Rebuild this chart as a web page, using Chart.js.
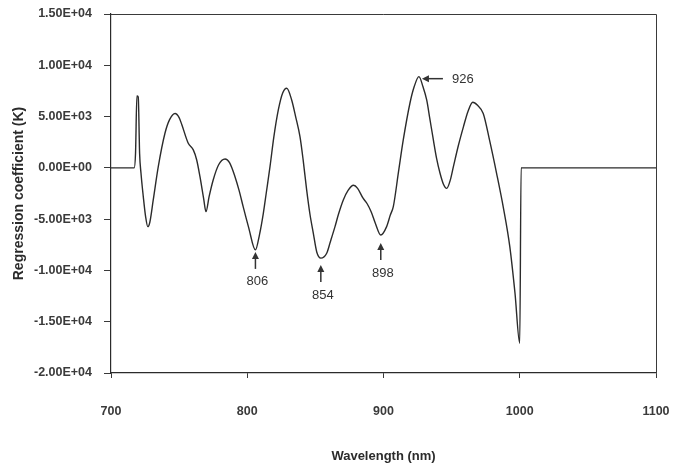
<!DOCTYPE html>
<html>
<head>
<meta charset="utf-8">
<script src="https://cdn.jsdelivr.net/npm/chart.js@4.4.1/dist/chart.umd.min.js"></script>
<style>
  html, body { margin: 0; padding: 0; background: #ffffff; }
  #wrap { width: 673px; height: 467px; }
</style>
</head>
<body>
<div id="wrap"><canvas id="c" width="673" height="467"></canvas></div>
<script>
// Wavelength (nm) of each sampled point of the regression-coefficient curve
const wavelength = [
  700, 717, 718, 719, 720, 721, 722, 723.7, 725.4, 727, 728.5, 731, 734.7, 739.6, 743, 747, 750, 752,
  756.7, 760.4, 762.9, 765.3, 768, 769.7, 772, 775, 779, 783.7, 787, 791, 794, 797, 801, 806, 809,
  811.8, 814, 816.7, 819.5, 822.8, 826, 829, 832.6, 835.5, 838.7, 841, 843.6, 846, 848.5, 851, 854,
  858.3, 861, 864.4, 867, 870.5, 874, 878, 881, 885, 888, 891, 894, 898, 902.3, 905, 907.2, 911,
  914.5, 919.4, 922.5, 926, 929, 931.7, 934, 936.6, 939, 941.5, 944, 946.4, 949, 951.3, 955, 958.7,
  962, 965.5, 969, 973.2, 978, 983, 988, 992.7, 996.5, 1000, 1001, 1100
];

// Regression coefficient (K) at each wavelength above
const coefficient = [
  0, 0, 1400, 7000, 6900, 1400, -500, -2800, -4750, -5730, -5300, -3130, 120, 3370, 4700, 5300, 4900, 4200,
  2400, 1750, 770, -860, -3000, -4270, -2800, -1180, 300, 870, 500, -860, -2200, -3780, -5800, -8000, -6500,
  -4430, -2400, 120, 3000, 5645, 7300, 7760, 6620, 5000, 3040, 800, -2150, -4500, -6380, -8200, -8800,
  -8330, -7200, -5730, -4500, -3130, -2200, -1700, -2000, -2960, -3500, -4300, -5400, -6550, -5730, -4600, -3780, -400,
  2720, 6300, 7900, 8890, 7900, 6620, 4800, 2720, 900, -530, -1600, -2000, -1200, 120, 2200, 4020,
  5500, 6400, 6100, 5300, 2600, -530, -3900, -7680, -12200, -17100, 0, 0
];

// Axis ticks
const xTicks = [700, 800, 900, 1000, 1100];
const yTicks = [15000, 10000, 5000, 0, -5000, -10000, -15000, -20000];

// Wavelengths marked with arrows, and which way each arrow points
const markedWavelengths = [806, 854, 898, 926];
const markedDirections = ['up', 'up', 'up', 'left'];

function sci(v) {
  if (v === 0) return '0.00E+00';
  const e = Math.floor(Math.log10(Math.abs(v)) + 1e-9);
  const m = v / Math.pow(10, e);
  return m.toFixed(2) + 'E' + (e < 0 ? '-' : '+') + String(Math.abs(e)).padStart(2, '0');
}

const points = wavelength.map((w, i) => ({ x: w, y: coefficient[i] }));

const ink = '#2b2b2b';
const tickFont = { family: '"Liberation Sans", Arial, sans-serif', size: 12.5, weight: 'bold' };

// Closes the plot box and draws the arrows that mark selected extrema
const framePlugin = {
  id: 'frameAndMarks',
  afterDatasetsDraw(chart) {
    const { ctx, chartArea: a, scales } = chart;
    ctx.save();
    ctx.strokeStyle = '#3a3a3a';
    ctx.lineWidth = 1;
    ctx.beginPath();
    ctx.moveTo(a.left, a.top + 0.5);
    ctx.lineTo(a.right + 0.5, a.top + 0.5);
    ctx.lineTo(a.right + 0.5, a.bottom);
    ctx.stroke();

    ctx.fillStyle = '#333';
    ctx.strokeStyle = '#333';
    ctx.lineWidth = 1.5;
    ctx.font = '13px "Liberation Sans", Arial, sans-serif';
    const gaps = [2, 7, 8, 3];
    markedWavelengths.forEach((w, k) => {
      const idx = wavelength.indexOf(w);
      const px = scales.x.getPixelForValue(w);
      const py = scales.y.getPixelForValue(coefficient[idx]);
      if (markedDirections[k] === 'up') {
        const tip = py + gaps[k];
        ctx.beginPath();
        ctx.moveTo(px, tip + 5);
        ctx.lineTo(px, tip + 17);
        ctx.stroke();
        ctx.beginPath();
        ctx.moveTo(px, tip);
        ctx.lineTo(px - 3.5, tip + 7);
        ctx.lineTo(px + 3.5, tip + 7);
        ctx.closePath();
        ctx.fill();
        ctx.textAlign = 'center';
        ctx.textBaseline = 'middle';
        ctx.fillText(String(w), px + 2, tip + 30);
      } else {
        const tipX = px + gaps[k];
        const y = py + 2;
        ctx.beginPath();
        ctx.moveTo(tipX + 5, y);
        ctx.lineTo(tipX + 21, y);
        ctx.stroke();
        ctx.beginPath();
        ctx.moveTo(tipX, y);
        ctx.lineTo(tipX + 7, y - 3.5);
        ctx.lineTo(tipX + 7, y + 3.5);
        ctx.closePath();
        ctx.fill();
        ctx.textAlign = 'left';
        ctx.textBaseline = 'middle';
        ctx.fillText(String(w), tipX + 30, y + 1);
      }
    });
    ctx.restore();
  }
};

new Chart(document.getElementById('c'), {
  type: 'line',
  data: {
    datasets: [{
      data: points,
      borderColor: ink,
      borderWidth: 1.4,
      pointRadius: 0,
      fill: false,
      cubicInterpolationMode: 'monotone'
    }]
  },
  options: {
    responsive: false,
    animation: false,
    devicePixelRatio: 1,
    layout: { padding: { left: 0, right: 17, top: 14, bottom: 0 } },
    plugins: { legend: { display: false }, tooltip: { enabled: false } },
    scales: {
      x: {
        type: 'linear',
        min: 700,
        max: 1100,
        afterBuildTicks(scale) { scale.ticks = xTicks.map(v => ({ value: v })); },
        afterFit(scale) {
          scale.height = 94;
          scale.paddingLeft = 0;
          scale.paddingRight = 0;
        },
        grid: { drawOnChartArea: false, drawTicks: true, tickLength: 5, color: '#3a3a3a' },
        border: { display: true, color: '#2b2b2b', width: 1.2 },
        ticks: { color: '#3a3a3a', font: tickFont, padding: 26, maxRotation: 0, callback: v => String(v) },
        title: {
          display: true,
          text: 'Wavelength (nm)',
          color: '#2b2b2b',
          font: { family: '"Liberation Sans", Arial, sans-serif', size: 13, weight: 'bold' },
          padding: { top: 4, bottom: 3 }
        }
      },
      y: {
        type: 'linear',
        min: -20000,
        max: 15000,
        afterBuildTicks(scale) { scale.ticks = yTicks.map(v => ({ value: v })); },
        afterFit(scale) {
          scale.width = 111;
          scale.paddingTop = 0;
          scale.paddingBottom = 0;
        },
        grid: { drawOnChartArea: false, drawTicks: true, tickLength: 7, color: '#3a3a3a' },
        border: { display: true, color: '#2b2b2b', width: 1.2 },
        ticks: { color: '#3a3a3a', font: tickFont, padding: 12, callback: v => sci(v) },
        title: {
          display: true,
          text: 'Regression coefficient (K)',
          color: '#2b2b2b',
          font: { family: '"Liberation Sans", Arial, sans-serif', size: 14, weight: 'bold' },
          padding: { top: 11, bottom: 0 }
        }
      }
    }
  },
  plugins: [framePlugin]
});
</script>
</body>
</html>
